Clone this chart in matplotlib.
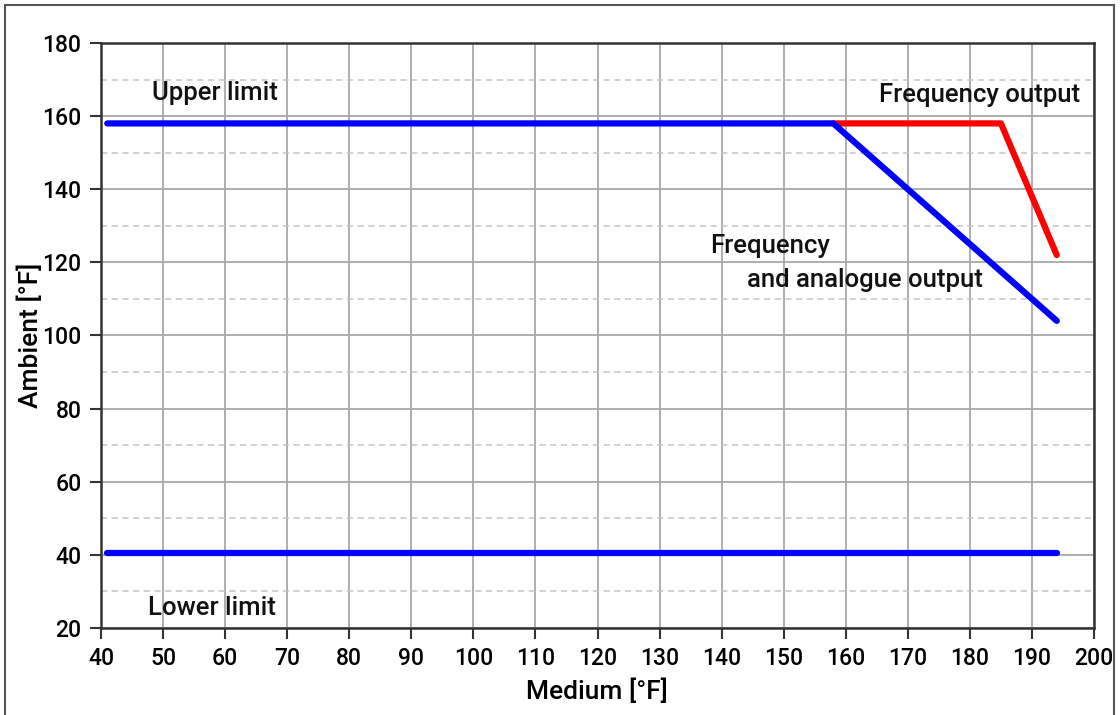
import matplotlib.pyplot as plt
from matplotlib.patches import Rectangle

# data
upper_x = [41, 158, 194]
upper_y = [158, 158, 104]
freq_x = [158, 185, 194]
freq_y = [158, 158, 122]
lower_x = [41, 194]
lower_y = [40.6, 40.6]

x_ticks = list(range(40, 201, 10))
y_ticks = list(range(20, 181, 20))
y_minor = list(range(30, 180, 20))

plt.rcParams['font.family'] = ['Roboto', 'DejaVu Sans']

fig = plt.figure(figsize=(11.2, 7.15), dpi=100)
ax = fig.add_axes([0.0902, 0.1217, 0.8866, 0.8182])

# frame round the figure
fig.patches.append(Rectangle((5 / 1120, -0.01), 1109 / 1120, 1 - 5 / 715 + 0.01,
                             transform=fig.transFigure, fill=False,
                             edgecolor='#555555', linewidth=1.5))

ax.set_xlim(40, 200)
ax.set_ylim(20, 180)
ax.set_xticks(x_ticks)
ax.set_yticks(y_ticks)
ax.set_yticks(y_minor, minor=True)

ax.grid(True, which='major', color='#a8a8a8', linewidth=1.3)
ax.grid(True, which='minor', axis='y', color='#c4c4c4', linewidth=1.1, linestyle=(0, (4, 3)))
ax.tick_params(which='minor', length=0)
ax.tick_params(which='major', length=8, width=1.5, color='#333333',
               labelsize=16.5, pad=6)
for lab in ax.get_xticklabels() + ax.get_yticklabels():
    lab.set_fontweight('medium')
for sp in ax.spines.values():
    sp.set_color('#333333')
    sp.set_linewidth(1.8)
ax.set_axisbelow(True)

ax.plot(freq_x, freq_y, color='#ff0000', linewidth=4.5, solid_capstyle='round',
        solid_joinstyle='round')
ax.plot(upper_x, upper_y, color='#0000ff', linewidth=4.5, solid_capstyle='round',
        solid_joinstyle='round')
ax.plot(lower_x, lower_y, color='#0000ff', linewidth=4.5, solid_capstyle='round')

tkw = dict(fontsize=18.5, fontweight='medium', color='#111111')
ax.text(48.2, 166.3, 'Upper limit', va='center', ha='left', **tkw)
ax.text(197.7, 165.8, 'Frequency output', va='center', ha='right', **tkw)
ax.text(138.1, 124.5, 'Frequency', va='center', ha='left', **tkw)
ax.text(144.1, 115.2, 'and analogue output', va='center', ha='left', **tkw)
ax.text(47.6, 25.5, 'Lower limit', va='center', ha='left', **tkw)

ax.set_xlabel('Medium [°F]', fontsize=19, fontweight='medium', va='center')
ax.set_ylabel('Ambient [°F]', fontsize=19, fontweight='medium', va='center')
ax.xaxis.set_label_coords(0.499, -0.109)
ax.yaxis.set_label_coords(-0.0715, 0.5)

fig.savefig('out.png', dpi=100)
